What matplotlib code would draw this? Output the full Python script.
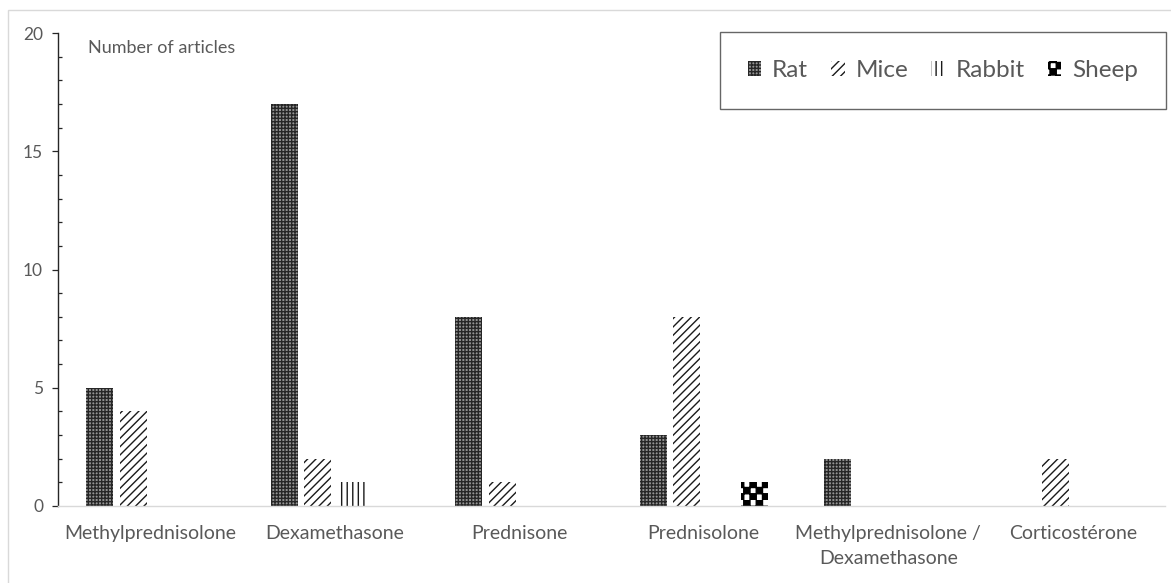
import warnings
import numpy as np
import matplotlib
matplotlib.use("Agg")
import matplotlib.pyplot as plt
import matplotlib.hatch as mhatch
from matplotlib.path import Path
from matplotlib.patches import Rectangle
from matplotlib.ticker import MultipleLocator

warnings.filterwarnings("ignore")

# ---- data ----
categories = ["Methylprednisolone", "Dexamethasone", "Prednisone", "Prednisolone",
              "Methylprednisolone /\nDexamethasone", "Corticostérone"]
series_names = ["Rat", "Mice", "Rabbit", "Sheep"]
rat = [5, 17, 8, 3, 2, 0]
mice = [4, 2, 1, 8, 0, 2]
rabbit = [0, 1, 0, 0, 0, 0]
sheep = [0, 0, 0, 1, 0, 0]
y_ticks = [0, 5, 10, 15, 20]
y_title = "Number of articles"


# ---- custom checkerboard hatch ('c') ----
class CheckerHatch(mhatch.HatchPatternBase):
    def __init__(self, hatch, density):
        cnt = hatch.count('c')
        self.n = 16 * cnt
        self.num_vertices = 5 * (self.n * self.n // 2) if cnt else 0

    def set_vertices_and_codes(self, vertices, codes):
        n = self.n
        k = 0
        for i in range(n):
            for j in range(n):
                if (i + j) % 2 == 0:
                    x0, x1 = i / n, (i + 1) / n
                    y0, y1 = j / n, (j + 1) / n
                    vertices[k:k + 5] = [[x0, y0], [x1, y0], [x1, y1], [x0, y1], [x0, y0]]
                    codes[k:k + 5] = [Path.MOVETO, Path.LINETO, Path.LINETO,
                                      Path.LINETO, Path.CLOSEPOLY]
                    k += 5


mhatch._hatch_types.append(CheckerHatch)

plt.rcParams['font.family'] = ['Lato', 'DejaVu Sans']
plt.rcParams['hatch.linewidth'] = 1.0
text_color = "#595959"

fig = plt.figure(figsize=(11.71, 5.83), dpi=100)
# outer light frame
fig.patches.append(Rectangle((8 / 1171, -0.01), 1.2, (583 - 10) / 583 + 0.01,
                             transform=fig.transFigure, fill=False,
                             edgecolor="#d9d9d9", linewidth=1.0))

ax = fig.add_axes([58 / 1171, 77 / 583, (1165 - 58) / 1171, (506 - 33) / 583])

x = np.arange(len(categories))
step = 0.182
width = 0.146
styles = [
    dict(facecolor="#949494", edgecolor="#262626", hatch="+++++"),
    dict(facecolor="white", edgecolor="#1a1a1a", hatch="////"),
    dict(facecolor="white", edgecolor="#1a1a1a", hatch="|||"),
    dict(facecolor="white", edgecolor="black", hatch="c"),
]
all_series = [rat, mice, rabbit, sheep]
for k, (vals, name, st) in enumerate(zip(all_series, series_names, styles)):
    ax.bar(x + (k - 1.5) * step, vals, width, label=name, linewidth=0, **st)

ax.set_xlim(-0.5, len(categories) - 0.5)
ax.set_ylim(0, 20)
ax.set_yticks(y_ticks)
ax.yaxis.set_minor_locator(MultipleLocator(1))
ax.set_xticks(x)
ax.set_xticklabels(categories, fontsize=14, color=text_color, linespacing=1.55)
ax.tick_params(axis='x', length=0, pad=14)
ax.tick_params(axis='y', which='major', direction='out', length=4.3, width=0.9,
               color="#262626", labelsize=12.5, labelcolor=text_color, pad=6.5)
ax.tick_params(axis='y', which='minor', direction='in', length=3, width=0.9,
               color="#262626")
for s in ["top", "right"]:
    ax.spines[s].set_visible(False)
ax.spines["left"].set_color("#262626")
ax.spines["left"].set_linewidth(1.0)
ax.spines["bottom"].set_color("#d9d9d9")
ax.spines["bottom"].set_linewidth(1.0)

ax.text(88 / 1171, 1 - 48 / 583, y_title, transform=fig.transFigure, fontsize=13,
        color=text_color, va='center', ha='left')

leg = ax.legend(loc='upper right', bbox_to_anchor=(1166 / 1171, 1 - 32 / 583),
                bbox_transform=fig.transFigure, ncol=4, fontsize=17.5,
                frameon=True, fancybox=False, edgecolor="#404040",
                handlelength=0.55, handleheight=0.55, handletextpad=0.45,
                columnspacing=0.95, borderpad=1.15, borderaxespad=0)
leg.get_frame().set_linewidth(1.0)
for t in leg.get_texts():
    t.set_color(text_color)

fig.savefig("out.png", dpi=100)
